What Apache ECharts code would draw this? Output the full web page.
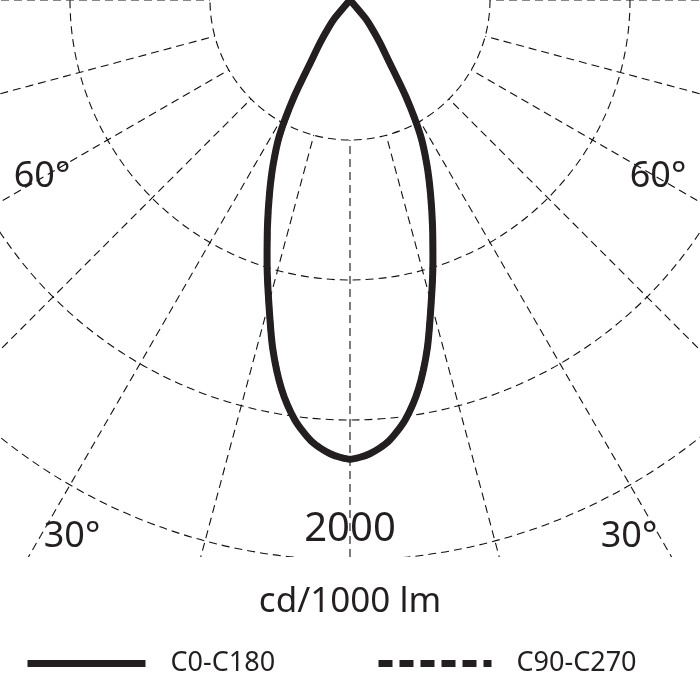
<!DOCTYPE html>
<html>
<head>
<meta charset="utf-8">
<script src="https://cdn.jsdelivr.net/npm/echarts@6/dist/echarts.min.js"></script>
<style>
html,body{margin:0;padding:0;background:#ffffff;}
#chart{width:700px;height:700px;}
</style>
</head>
<body>
<div id="chart"></div>
<script>
// gamma angles (degrees from nadir) and luminous intensity (cd/1000 lm)
const gammaAngles = [0, 2.5, 5, 7.5, 10, 12.5, 15, 17.5, 20, 22.5, 25, 27.5, 30, 32.5, 35, 37.5, 40, 42.5];
const c0c180 =      [1640, 1622, 1582, 1512, 1410, 1275, 1120, 985, 862, 752, 650, 545, 400, 255, 185, 130, 85, 0];
const c90c270 =     [1640, 1622, 1582, 1512, 1410, 1275, 1120, 985, 862, 752, 650, 545, 400, 255, 185, 130, 85, 0];
const seriesNames = ['C0-C180', 'C90-C270'];
const ringMin = 500, ringMax = 2500, ringStep = 500;
const angleStep = 15;
const angleTickLabels = ['60°', '30°'];
const radiusTickLabel = '2000';
const unitLabel = 'cd/1000 lm';

const ink = '#231f20';
const fontFamily = '"Noto Sans", "Open Sans", sans-serif';
const gridLine = { color: '#111', width: 1.1, type: [8, 5] };

// closed outline: start at the tip, down the C0 side, back up the C180 side
function lobe(values) {
  const pts = [];
  for (let i = gammaAngles.length - 1; i >= 0; i--) pts.push([values[i], gammaAngles[i]]);
  for (let i = 1; i < gammaAngles.length; i++) pts.push([values[i], 360 - gammaAngles[i]]);
  return pts;
}

const chart = echarts.init(document.getElementById('chart'), null, { renderer: 'canvas' });

function txt(text, x, y, size) {
  return {
    type: 'text', x: x, y: y, z: 60,
    style: { text: text, fill: ink, font: size + 'px ' + fontFamily, textAlign: 'center', textVerticalAlign: 'middle' }
  };
}

const hiddenSymbol = { color: 'rgba(0,0,0,0)', borderColor: 'rgba(0,0,0,0)', borderWidth: 0, opacity: 0 };

chart.setOption({
  animation: false,
  backgroundColor: '#ffffff',
  polar: [
    { center: [350, 0], radius: [140, 700] },
    { center: [350, 0], radius: [0, 560] }
  ],
  angleAxis: [
    {
      polarIndex: 0, type: 'value', min: 0, max: 360, interval: angleStep,
      startAngle: 270, clockwise: true,
      axisLine: { show: false }, axisTick: { show: false }, axisLabel: { show: false },
      splitLine: { show: true, lineStyle: gridLine }
    },
    { polarIndex: 1, type: 'value', min: 0, max: 360, startAngle: 270, clockwise: true, show: false }
  ],
  radiusAxis: [
    {
      polarIndex: 0, type: 'value', min: ringMin, max: ringMax, interval: ringStep,
      axisLine: { show: false }, axisTick: { show: false }, axisLabel: { show: false },
      splitLine: { show: true, lineStyle: gridLine }
    },
    { polarIndex: 1, type: 'value', min: 0, max: 2000, show: false }
  ],
  legend: [
    {
      data: [seriesNames[0]], left: 24, top: 650, padding: 0, z: 70,
      itemWidth: 118, itemHeight: 30,
      lineStyle: { width: 7, cap: 'butt' }, itemStyle: hiddenSymbol,
      textStyle: { fontSize: 27, color: ink, fontFamily: fontFamily, padding: [0, 0, 0, 20] }
    },
    {
      data: [seriesNames[1]], left: 375, top: 650, padding: 0, z: 70,
      itemWidth: 113, itemHeight: 30,
      lineStyle: { width: 7, cap: 'butt' }, itemStyle: hiddenSymbol,
      textStyle: { fontSize: 27, color: ink, fontFamily: fontFamily, padding: [0, 0, 0, 20] }
    }
  ],
  series: [
    {
      name: seriesNames[1], type: 'line', coordinateSystem: 'polar', polarIndex: 1,
      data: lobe(c90c270), symbol: 'none', smooth: 0.25, clip: false, z: 3,
      lineStyle: { color: ink, width: 6, type: [14, 7] }, itemStyle: { color: ink }
    },
    {
      name: seriesNames[0], type: 'line', coordinateSystem: 'polar', polarIndex: 1,
      data: lobe(c0c180), symbol: 'none', smooth: 0.25, clip: false, z: 4,
      lineStyle: { color: ink, width: 7, type: 'solid', cap: 'round', join: 'round' }, itemStyle: { color: ink }
    }
  ],
  graphic: [
    { type: 'rect', z: 50, shape: { x: 0, y: 557, width: 700, height: 143 }, style: { fill: '#ffffff' } },
    txt(angleTickLabels[0], 42, 177, 36),
    txt(angleTickLabels[0], 658, 177, 36),
    txt(angleTickLabels[1], 72, 537, 36),
    txt(angleTickLabels[1], 629, 537, 36),
    txt(radiusTickLabel, 350, 530, 40),
    txt(unitLabel, 350, 602, 35)
  ]
});
</script>
</body>
</html>
